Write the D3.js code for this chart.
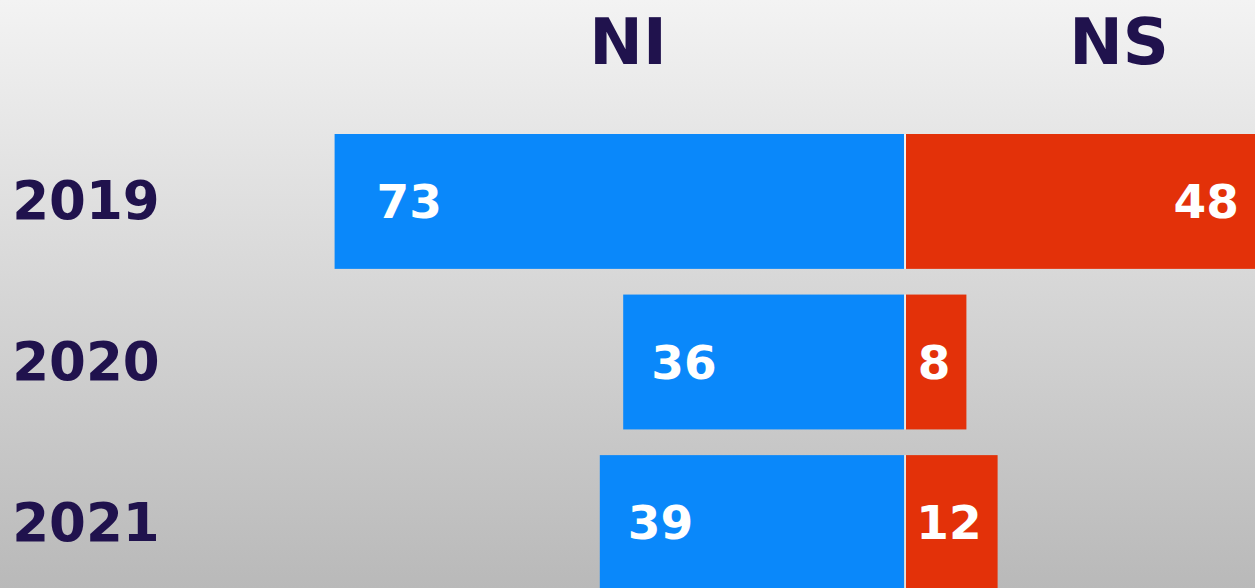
<!DOCTYPE html>
<html>
<head>
<meta charset="utf-8">
<script src="https://cdn.jsdelivr.net/npm/d3@7"></script>
<style>
  html, body { margin: 0; padding: 0; overflow: hidden; }
  svg { display: block; }
</style>
</head>
<body>
<div id="chart"></div>
<script>
// data
var years = ["2019", "2020", "2021"];
var niValues = [73, 36, 39];
var nsValues = [48, 8, 12];
var seriesNames = ["NI", "NS"];

var width = 1255,
    height = 588;
var navy = "#20124d",
    blue = "#0a88fa",
    red = "#e33109";
var font = "'DejaVu Sans', sans-serif";

var svg = d3.select("#chart").append("svg")
    .attr("width", width)
    .attr("height", height);

// background gradient
var grad = svg.append("defs").append("linearGradient")
    .attr("id", "bg")
    .attr("x1", 0).attr("y1", 0)
    .attr("x2", 0).attr("y2", 1);
grad.append("stop").attr("offset", "0%").attr("stop-color", "#f3f3f3");
grad.append("stop").attr("offset", "100%").attr("stop-color", "#b9b9b9");

svg.append("rect")
    .attr("width", width)
    .attr("height", height)
    .attr("fill", "url(#bg)");

// scales
var x = d3.scaleLinear()
    .domain([-80, 80])
    .range([904 - 624, 904 + 624]);

var y = d3.scaleBand()
    .domain(years)
    .range([134, 590])
    .paddingInner(0.16)
    .paddingOuter(0);

var rows = years.map(function(d, i) {
    return { year: d, ni: niValues[i], ns: nsValues[i] };
});

var g = svg.selectAll(".row")
    .data(rows)
    .enter().append("g")
    .attr("class", "row");

// NI bars (left of centre)
g.append("rect")
    .attr("x", function(d) { return x(-d.ni); })
    .attr("y", function(d) { return y(d.year); })
    .attr("width", function(d) { return x(0) - x(-d.ni); })
    .attr("height", y.bandwidth())
    .attr("fill", blue);

// NS bars (right of centre)
g.append("rect")
    .attr("x", x(0) + 2)
    .attr("y", function(d) { return y(d.year); })
    .attr("width", function(d) { return x(d.ns) - x(0) - 2; })
    .attr("height", y.bandwidth())
    .attr("fill", red);

// thin white divider
g.append("rect")
    .attr("x", x(0) + 0.5)
    .attr("y", function(d) { return y(d.year); })
    .attr("width", 1.2)
    .attr("height", y.bandwidth())
    .attr("fill", "#ffffff")
    .attr("opacity", 0.8);

// value labels
g.append("text")
    .attr("x", function(d, i) { return x(-d.ni) + (i === 0 ? 42 : 28); })
    .attr("y", function(d) { return y(d.year) + y.bandwidth() / 2; })
    .attr("dy", "0.36em")
    .attr("font-family", font)
    .attr("font-weight", "bold")
    .attr("font-size", 47)
    .attr("fill", "#ffffff")
    .text(function(d) { return d.ni; });

g.append("text")
    .attr("x", function(d) { return Math.min(x(d.ns), width) - 16; })
    .attr("y", function(d) { return y(d.year) + y.bandwidth() / 2; })
    .attr("dy", "0.36em")
    .attr("text-anchor", "end")
    .attr("font-family", font)
    .attr("font-weight", "bold")
    .attr("font-size", 47)
    .attr("fill", "#ffffff")
    .text(function(d) { return d.ns; });

// year labels
g.append("text")
    .attr("x", 86)
    .attr("y", function(d) { return y(d.year) + y.bandwidth() / 2; })
    .attr("dy", "0.34em")
    .attr("text-anchor", "middle")
    .attr("font-family", font)
    .attr("font-weight", "bold")
    .attr("font-size", 53)
    .attr("fill", navy)
    .text(function(d) { return d.year; });

// series headers
svg.selectAll(".head")
    .data(seriesNames)
    .enter().append("text")
    .attr("class", "head")
    .attr("x", function(d, i) { return i === 0 ? 628 : 1119; })
    .attr("y", 64)
    .attr("text-anchor", "middle")
    .attr("font-family", font)
    .attr("font-weight", "bold")
    .attr("font-size", 64)
    .attr("fill", navy)
    .text(function(d) { return d; });
</script>
</body>
</html>
